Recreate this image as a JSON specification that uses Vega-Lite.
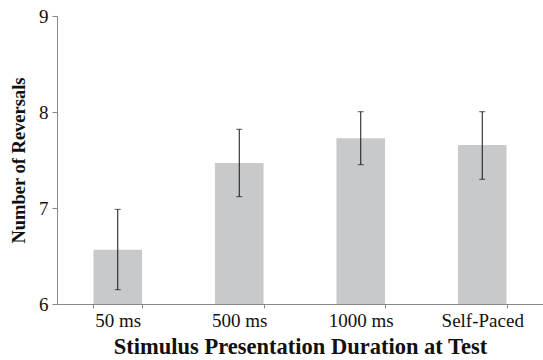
{
  "$schema": "https://vega.github.io/schema/vega-lite/v6.json",
  "width": 486,
  "height": 288,
  "autosize": {"type": "none"},
  "padding": {"left": 57, "top": 16, "right": 0, "bottom": 56},
  "background": "white",
  "data": {"values": [
    {"cond": "50 ms", "mean": 6.566, "lo": 6.149, "hi": 6.986},
    {"cond": "500 ms", "mean": 7.469, "lo": 7.118, "hi": 7.82},
    {"cond": "1000 ms", "mean": 7.726, "lo": 7.451, "hi": 8.003},
    {"cond": "Self-Paced", "mean": 7.656, "lo": 7.299, "hi": 8.003}
  ]},
  "config": {
    "view": {"stroke": null},
    "axis": {"labelFont": "Liberation Serif", "titleFont": "Liberation Serif", "labelColor": "#111", "titleColor": "#111", "domainColor": "#888", "tickColor": "#888", "grid": false}
  },
  "encoding": {
    "x": {"field": "cond", "type": "nominal", "sort": null,
      "scale": {"paddingInner": 0.6, "paddingOuter": 0.3},
      "axis": {"title": "Stimulus Presentation Duration at Test", "labelAngle": 0, "labelFont": "Liberation Serif", "titleFont": "Liberation Serif", "labelFontSize": 19, "titleFontSize": 22.5, "titleFontWeight": "bold", "tickBand": "extent", "tickSize": 4, "labelPadding": 3, "titlePadding": 5}
    }
  },
  "layer": [
    {
      "mark": {"type": "bar", "color": "#c8c9cb"},
      "encoding": {
        "y": {"field": "mean", "type": "quantitative",
          "scale": {"domain": [6, 9], "nice": false, "zero": false},
          "axis": {"title": "Number of Reversals", "values": [6, 7, 8, 9], "format": "d", "labelFont": "Liberation Serif", "titleFont": "Liberation Serif", "labelFontSize": 19, "titleFontSize": 18.5, "titleFontWeight": "bold", "tickSize": 5, "labelPadding": 4, "titlePadding": 10}
        },
        "y2": {"datum": 6}
      }
    },
    {
      "mark": {"type": "rule", "color": "#111", "strokeWidth": 1},
      "encoding": {"y": {"field": "lo", "type": "quantitative"}, "y2": {"field": "hi"}}
    },
    {
      "mark": {"type": "tick", "color": "#111", "size": 6, "thickness": 1},
      "encoding": {"y": {"field": "lo", "type": "quantitative"}}
    },
    {
      "mark": {"type": "tick", "color": "#111", "size": 6, "thickness": 1},
      "encoding": {"y": {"field": "hi", "type": "quantitative"}}
    }
  ]
}
